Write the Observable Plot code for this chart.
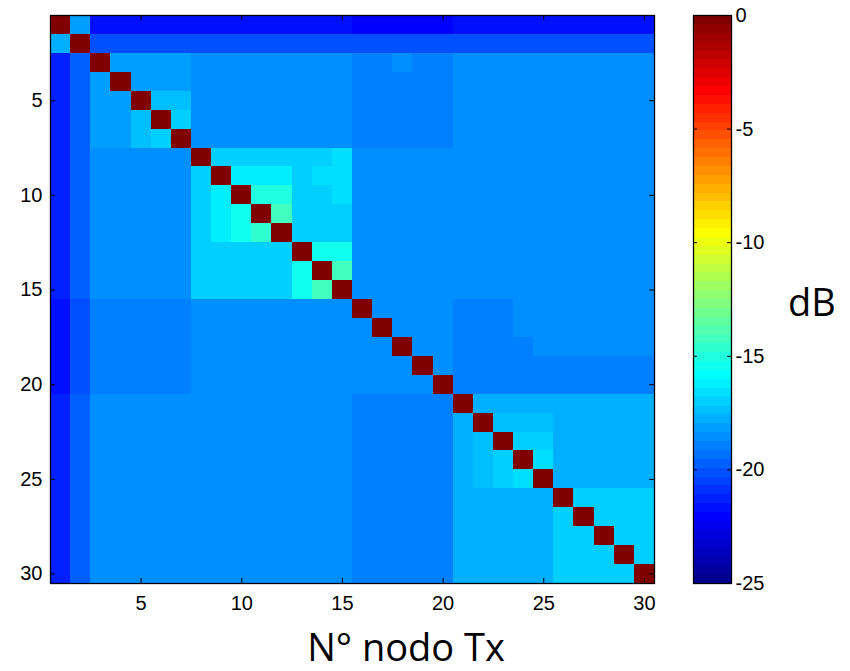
<!DOCTYPE html>
<html><head><meta charset="utf-8">
<script src="https://cdn.jsdelivr.net/npm/d3@7"></script>
<script src="https://cdn.jsdelivr.net/npm/@observablehq/plot@0.6"></script>
<style>
html,body{margin:0;padding:0;background:#fff;}
#wrap{position:relative;width:850px;height:671px;overflow:hidden;background:#fff;}
#main{position:absolute;left:0;top:0;}
#cbar{position:absolute;left:693px;top:0;}
.lbl{position:absolute;font-family:"Open Sans",sans-serif;font-size:38px;color:#000;white-space:nowrap;line-height:1;transform:translateX(-50%);}
</style></head><body>
<div id="wrap"><div id="main"></div><div id="cbar"></div>
<div class="lbl" id="xlab" style="left:406px;top:627px;">N° nodo Tx</div>
<div class="lbl" id="clab" style="left:812px;top:282px;">dB</div></div>
<script>
// ---- data (dB), rows = receiving node, columns = transmitting node ----
const xTicks = [5, 10, 15, 20, 25, 30];
const yTicks = [5, 10, 15, 20, 25, 30];
const colorTicks = [0, -5, -10, -15, -20, -25];
const colorDomain = [-25, 0];

const r01 = [0,-18.2,-21.7,-21.7,-21.7,-21.7,-21.7,-21.7,-21.7,-21.7,-21.7,-21.7,-21.7,-21.7,-21.7,-22.1,-22.1,-22.1,-22.1,-22.1,-21.7,-21.7,-21.7,-21.7,-21.7,-21.7,-21.7,-21.7,-21.7,-21.7];
const r02 = [-17.8,0,-20.1,-20.1,-20.1,-20.1,-20.1,-20.1,-20.1,-20.1,-20.1,-20.1,-20.1,-20.1,-20.1,-20.1,-20.1,-20.1,-20.1,-20.1,-20.1,-20.1,-20.1,-20.1,-20.1,-20.1,-20.1,-20.1,-20.1,-20.1];
const r03 = [-21.3,-19.7,0,-18.2,-18.2,-18.2,-18.2,-18.5,-18.5,-18.5,-18.5,-18.5,-18.5,-18.5,-18.5,-18.9,-18.9,-18.5,-18.9,-18.9,-18.5,-18.5,-18.5,-18.5,-18.5,-18.5,-18.5,-18.5,-18.5,-18.5];
const r04 = [-21.3,-19.7,-18.2,0,-18.2,-18.2,-18.2,-18.5,-18.5,-18.5,-18.5,-18.5,-18.5,-18.5,-18.5,-18.9,-18.9,-18.9,-18.9,-18.9,-18.5,-18.5,-18.5,-18.5,-18.5,-18.5,-18.5,-18.5,-18.5,-18.5];
const r05 = [-21.3,-19.7,-18.2,-18.2,0,-17.4,-17.4,-18.5,-18.5,-18.5,-18.5,-18.5,-18.5,-18.5,-18.5,-18.9,-18.9,-18.9,-18.9,-18.9,-18.5,-18.5,-18.5,-18.5,-18.5,-18.5,-18.5,-18.5,-18.5,-18.5];
const r06 = [-21.3,-19.7,-18.2,-18.2,-17.4,0,-17.0,-18.5,-18.5,-18.5,-18.5,-18.5,-18.5,-18.5,-18.5,-18.9,-18.9,-18.9,-18.9,-18.9,-18.5,-18.5,-18.5,-18.5,-18.5,-18.5,-18.5,-18.5,-18.5,-18.5];
const r07 = [-21.3,-19.7,-18.2,-18.2,-17.4,-17.0,0,-18.5,-18.5,-18.5,-18.5,-18.5,-18.5,-18.5,-18.5,-18.9,-18.9,-18.9,-18.9,-18.9,-18.5,-18.5,-18.5,-18.5,-18.5,-18.5,-18.5,-18.5,-18.5,-18.5];
const r08 = [-21.3,-19.7,-18.5,-18.5,-18.5,-18.5,-18.5,0,-17.0,-17.0,-17.0,-17.0,-17.0,-17.0,-16.6,-18.5,-18.5,-18.5,-18.5,-18.5,-18.5,-18.5,-18.5,-18.5,-18.5,-18.5,-18.5,-18.5,-18.5,-18.5];
const r09 = [-21.3,-19.7,-18.5,-18.5,-18.5,-18.5,-18.5,-17.0,0,-16.2,-16.2,-16.2,-17.0,-16.6,-16.6,-18.5,-18.5,-18.5,-18.5,-18.5,-18.5,-18.5,-18.5,-18.5,-18.5,-18.5,-18.5,-18.5,-18.5,-18.5];
const r10 = [-21.3,-19.7,-18.5,-18.5,-18.5,-18.5,-18.5,-17.0,-16.2,0,-15.0,-15.0,-17.0,-17.0,-16.6,-18.5,-18.5,-18.5,-18.5,-18.5,-18.5,-18.5,-18.5,-18.5,-18.5,-18.5,-18.5,-18.5,-18.5,-18.5];
const r11 = [-21.3,-19.7,-18.5,-18.5,-18.5,-18.5,-18.5,-17.0,-16.2,-15.4,0,-14.2,-17.0,-17.0,-17.0,-18.5,-18.5,-18.5,-18.5,-18.5,-18.5,-18.5,-18.5,-18.5,-18.5,-18.5,-18.5,-18.5,-18.5,-18.5];
const r12 = [-21.3,-19.7,-18.5,-18.5,-18.5,-18.5,-18.5,-17.0,-16.2,-15.4,-14.6,0,-17.0,-17.0,-17.0,-18.5,-18.5,-18.5,-18.5,-18.5,-18.5,-18.5,-18.5,-18.5,-18.5,-18.5,-18.5,-18.5,-18.5,-18.5];
const r13 = [-21.3,-19.7,-18.5,-18.5,-18.5,-18.5,-18.5,-17.0,-17.0,-17.0,-17.0,-17.0,0,-15.4,-15.4,-18.5,-18.5,-18.5,-18.5,-18.5,-18.5,-18.5,-18.5,-18.5,-18.5,-18.5,-18.5,-18.5,-18.5,-18.5];
const r14 = [-21.3,-19.7,-18.5,-18.5,-18.5,-18.5,-18.5,-17.0,-17.0,-17.0,-17.0,-17.0,-15.4,0,-14.2,-18.5,-18.5,-18.5,-18.5,-18.5,-18.5,-18.5,-18.5,-18.5,-18.5,-18.5,-18.5,-18.5,-18.5,-18.5];
const r15 = [-21.3,-19.7,-18.5,-18.5,-18.5,-18.5,-18.5,-17.0,-17.0,-17.0,-17.0,-17.0,-15.4,-14.2,0,-18.5,-18.5,-18.5,-18.5,-18.5,-18.5,-18.5,-18.5,-18.5,-18.5,-18.5,-18.5,-18.5,-18.5,-18.5];
const r16 = [-21.7,-20.1,-18.9,-18.9,-18.9,-18.9,-18.9,-18.5,-18.5,-18.5,-18.5,-18.5,-18.5,-18.5,-18.5,0,-18.5,-18.5,-18.5,-18.5,-18.9,-18.9,-18.9,-18.5,-18.5,-18.5,-18.5,-18.5,-18.5,-18.5];
const r17 = [-21.7,-20.1,-18.9,-18.9,-18.9,-18.9,-18.9,-18.5,-18.5,-18.5,-18.5,-18.5,-18.5,-18.5,-18.5,-18.5,0,-18.5,-18.5,-18.5,-18.9,-18.9,-18.9,-18.5,-18.5,-18.5,-18.5,-18.5,-18.5,-18.5];
const r18 = [-21.7,-20.1,-18.9,-18.9,-18.9,-18.9,-18.9,-18.5,-18.5,-18.5,-18.5,-18.5,-18.5,-18.5,-18.5,-18.5,-18.5,0,-18.5,-18.5,-18.9,-18.9,-18.9,-18.9,-18.5,-18.5,-18.5,-18.5,-18.5,-18.5];
const r19 = [-21.7,-20.1,-18.9,-18.9,-18.9,-18.9,-18.9,-18.5,-18.5,-18.5,-18.5,-18.5,-18.5,-18.5,-18.5,-18.5,-18.5,-18.5,0,-18.5,-18.9,-18.9,-18.9,-18.9,-18.9,-18.9,-18.9,-18.9,-18.9,-18.9];
const r20 = [-21.7,-20.1,-18.9,-18.9,-18.9,-18.9,-18.9,-18.5,-18.5,-18.5,-18.5,-18.5,-18.5,-18.5,-18.5,-18.5,-18.5,-18.5,-18.5,0,-18.9,-18.9,-18.9,-18.9,-18.9,-18.9,-18.9,-18.9,-18.9,-18.9];
const r21 = [-21.3,-19.7,-18.5,-18.5,-18.5,-18.5,-18.5,-18.5,-18.5,-18.5,-18.5,-18.5,-18.5,-18.5,-18.5,-18.9,-18.9,-18.9,-18.9,-18.9,0,-17.8,-17.8,-17.8,-17.8,-17.8,-17.8,-17.8,-17.8,-17.8];
const r22 = [-21.3,-19.7,-18.5,-18.5,-18.5,-18.5,-18.5,-18.5,-18.5,-18.5,-18.5,-18.5,-18.5,-18.5,-18.5,-18.9,-18.9,-18.9,-18.9,-18.9,-17.8,0,-17.4,-17.4,-17.4,-17.8,-17.8,-17.8,-17.8,-17.8];
const r23 = [-21.3,-19.7,-18.5,-18.5,-18.5,-18.5,-18.5,-18.5,-18.5,-18.5,-18.5,-18.5,-18.5,-18.5,-18.5,-18.9,-18.9,-18.9,-18.9,-18.9,-17.8,-17.4,0,-17.0,-17.0,-17.8,-17.8,-17.8,-17.8,-17.8];
const r24 = [-21.3,-19.7,-18.5,-18.5,-18.5,-18.5,-18.5,-18.5,-18.5,-18.5,-18.5,-18.5,-18.5,-18.5,-18.5,-18.9,-18.9,-18.9,-18.9,-18.9,-17.8,-17.4,-17.0,0,-16.6,-17.8,-17.8,-17.8,-17.8,-17.8];
const r25 = [-21.3,-19.7,-18.5,-18.5,-18.5,-18.5,-18.5,-18.5,-18.5,-18.5,-18.5,-18.5,-18.5,-18.5,-18.5,-18.9,-18.9,-18.9,-18.9,-18.9,-17.8,-17.4,-17.0,-16.6,0,-17.8,-17.8,-17.8,-17.8,-17.8];
const r26 = [-21.3,-19.7,-18.5,-18.5,-18.5,-18.5,-18.5,-18.5,-18.5,-18.5,-18.5,-18.5,-18.5,-18.5,-18.5,-18.9,-18.9,-18.9,-18.9,-18.9,-17.8,-17.8,-17.8,-17.8,-17.8,0,-17.0,-17.0,-17.0,-17.0];
const r27 = [-21.3,-19.7,-18.5,-18.5,-18.5,-18.5,-18.5,-18.5,-18.5,-18.5,-18.5,-18.5,-18.5,-18.5,-18.5,-18.9,-18.9,-18.9,-18.9,-18.9,-17.8,-17.8,-17.8,-17.8,-17.8,-17.0,0,-17.0,-17.0,-17.0];
const r28 = [-21.3,-19.7,-18.5,-18.5,-18.5,-18.5,-18.5,-18.5,-18.5,-18.5,-18.5,-18.5,-18.5,-18.5,-18.5,-18.9,-18.9,-18.9,-18.9,-18.9,-17.8,-17.8,-17.8,-17.8,-17.8,-17.0,-17.0,0,-17.0,-17.0];
const r29 = [-21.3,-19.7,-18.5,-18.5,-18.5,-18.5,-18.5,-18.5,-18.5,-18.5,-18.5,-18.5,-18.5,-18.5,-18.5,-18.9,-18.9,-18.9,-18.9,-18.9,-17.8,-17.8,-17.8,-17.8,-17.8,-17.0,-17.0,-17.0,0,-17.0];
const r30 = [-21.3,-19.7,-18.5,-18.5,-18.5,-18.5,-18.5,-18.5,-18.5,-18.5,-18.5,-18.5,-18.5,-18.5,-18.5,-18.9,-18.9,-18.9,-18.9,-18.9,-17.8,-17.8,-17.8,-17.8,-17.8,-17.0,-17.0,-17.0,-17.0,0];

const matrix = [r01,r02,r03,r04,r05,r06,r07,r08,r09,r10,r11,r12,r13,r14,r15,r16,r17,r18,r19,r20,r21,r22,r23,r24,r25,r26,r27,r28,r29,r30];

// MATLAB "jet" colormap with 64 discrete levels
function jet64(t) {
  let k = Math.floor(t * 64);
  if (k > 63) k = 63; if (k < 0) k = 0;
  const K = k + 1;
  const u = i => (i < 16 ? (i + 1) / 16 : i < 31 ? 1 : (47 - i) / 16);
  const g = (K >= 9 && K <= 55) ? u(K - 9) : 0;
  const r = (K >= 25) ? u(K - 25) : 0;
  const b = (K <= 39) ? u(K + 7) : 0;
  return `rgb(${Math.round(r*255)},${Math.round(g*255)},${Math.round(b*255)})`;
}

const cells = [];
matrix.forEach((row, i) => row.forEach((v, j) => cells.push({row: i + 1, col: j + 1, value: v})));

const W = 660, H = 671, ML = 50, MR = 6, MT = 15, MB = 88;
const pw = W - ML - MR, ph = H - MT - MB;
const font = "'Liberation Sans', Arial, sans-serif";

const main = Plot.plot({
  width: W, height: H, marginLeft: ML, marginRight: MR, marginTop: MT, marginBottom: MB,
  style: {fontFamily: font, fontSize: "20px", background: "transparent", color: "#000", overflow: "visible"},
  x: {domain: [0.5, 30.5]},
  y: {domain: [0.5, 30.5], reverse: true},
  color: {type: "linear", domain: colorDomain, interpolate: jet64},
  marks: [
    Plot.rect(cells, {x1: d => d.col - 0.5, x2: d => d.col + 0.5, y1: d => d.row - 0.5, y2: d => d.row + 0.5, fill: "value", shapeRendering: "crispEdges"}),
    Plot.axisX({ticks: xTicks, tickSize: 0, tickPadding: 12, label: null, tickFormat: d => String(d)}),
    Plot.axisY({ticks: yTicks, tickSize: 0, tickPadding: 8, label: null, tickFormat: d => String(d)}),
    Plot.tickY(yTicks, {y: d => d, insetRight: pw - 5, stroke: "#000"}),
    Plot.tickY(yTicks, {y: d => d, insetLeft: pw - 5, stroke: "#000"}),
    Plot.tickX(xTicks, {x: d => d, insetTop: ph - 5, stroke: "#000"}),
    Plot.tickX(xTicks, {x: d => d, insetBottom: ph - 5, stroke: "#000"}),
    Plot.frame({stroke: "#000", strokeWidth: 1.3})
  ]
});
document.getElementById("main").append(main);

// colorbar
const CW = 157, CBW = 38;
const step = (colorDomain[1] - colorDomain[0]) / 64;
const levels = d3.range(64).map(k => ({y1: colorDomain[0] + k * step, y2: colorDomain[0] + (k + 1) * step}));
const cbar = Plot.plot({
  width: CW, height: H, marginLeft: 0, marginRight: CW - CBW, marginTop: MT, marginBottom: MB,
  style: {fontFamily: font, fontSize: "20px", background: "transparent", color: "#000", overflow: "visible"},
  y: {domain: colorDomain},
  color: {type: "linear", domain: colorDomain, interpolate: jet64},
  marks: [
    Plot.rect(levels, {y1: "y1", y2: "y2", fill: d => (d.y1 + d.y2) / 2, shapeRendering: "crispEdges"}),
    Plot.axisY({anchor: "right", ticks: colorTicks, tickSize: 0, tickPadding: 4, label: null, tickFormat: d => String(d)}),
    Plot.tickY(colorTicks, {y: d => d, insetRight: CBW - 4, stroke: "#000"}),
    Plot.tickY(colorTicks, {y: d => d, insetLeft: CBW - 4, stroke: "#000"}),
    Plot.frame({stroke: "#000", strokeWidth: 1.3})
  ]
});
document.getElementById("cbar").append(cbar);
</script>
</body></html>
